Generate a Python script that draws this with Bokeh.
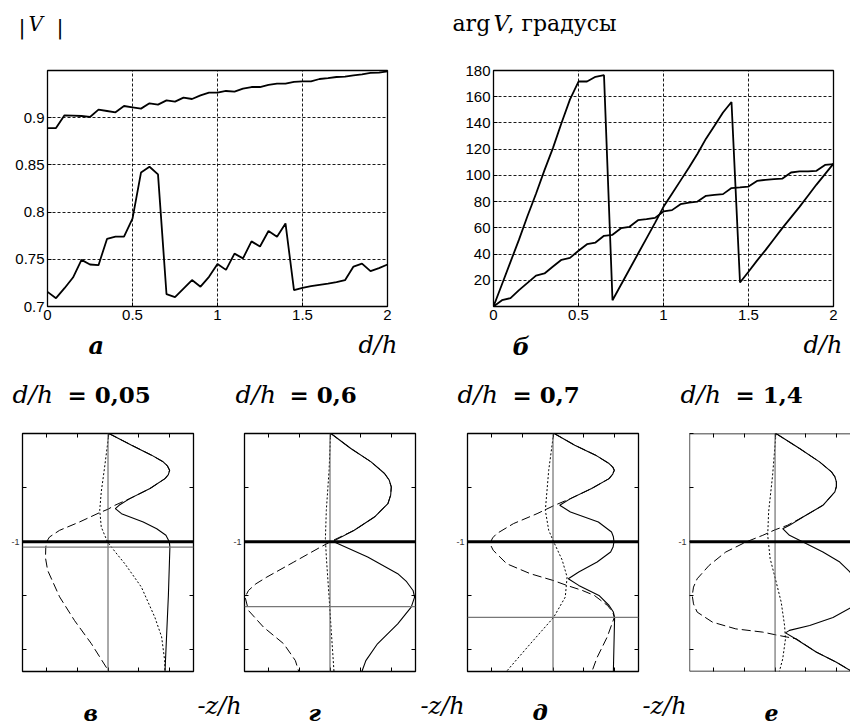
from bokeh.plotting import figure
from bokeh.models import (Range1d, FixedTicker, LinearAxis, Span, Label,
                          PrintfTickFormatter, CustomJSTickFormatter)
from bokeh.layouts import row, column
from bokeh.embed import file_html
from bokeh.resources import INLINE

# ---------------- data: top panels ----------------
d_over_h = [0.00, 0.05, 0.10, 0.15, 0.20, 0.25, 0.30, 0.35, 0.40, 0.45,
            0.50, 0.55, 0.60, 0.65, 0.70, 0.75, 0.80, 0.85, 0.90, 0.95,
            1.00, 1.05, 1.10, 1.15, 1.20, 1.25, 1.30, 1.35, 1.40, 1.45,
            1.50, 1.55, 1.60, 1.65, 1.70, 1.75, 1.80, 1.85, 1.90, 1.95, 2.00]
absV_upper = [0.889, 0.889, 0.9025, 0.9022, 0.9018, 0.9008, 0.9085, 0.9071, 0.9057, 0.9124,
              0.911, 0.9096, 0.9152, 0.9138, 0.9184, 0.917, 0.9212, 0.9198, 0.9237, 0.9265,
              0.9265, 0.9283, 0.9276, 0.9308, 0.9325, 0.9325, 0.9347, 0.936, 0.936, 0.938,
              0.9385, 0.9385, 0.941, 0.942, 0.9431, 0.9435, 0.9449, 0.946, 0.9474, 0.9477, 0.949]
absV_lower = [0.7155, 0.7088, 0.7194, 0.7307, 0.7494, 0.7445, 0.7438, 0.7716, 0.774, 0.774,
              0.793, 0.8419, 0.848, 0.840, 0.713, 0.710, 0.719, 0.728, 0.721, 0.7314,
              0.745, 0.7388, 0.756, 0.751, 0.769, 0.7635, 0.780, 0.774, 0.788, 0.7173,
              0.7198, 0.7215, 0.723, 0.7243, 0.7258, 0.7279, 0.7423, 0.7455, 0.7374, 0.7406, 0.7445]
argV_fast = [0, 17, 34, 51, 69, 86, 104, 121, 140, 158,
             171.6, 171.6, 175.2, 176.4, 4.8, 16.6, 28.4, 40.2, 52, 63.8,
             76, 86, 96, 106, 116.5, 128, 137.8, 148, 156, 18.3,
             26.5, 35, 43, 51.5, 60, 68, 76, 84.5, 93, 101, 109]
argV_slow = [0, 4.8, 6.4, 12.5, 18, 23.6, 25.2, 30.5, 35.6, 37.1,
             42.5, 47.5, 48.8, 53.9, 54.7, 59.7, 60.8, 65.8, 66.6, 67.6,
             72.5, 73.5, 78, 79.3, 80, 84.4, 85.2, 85.7, 90.3, 90.8,
             91.5, 95.8, 96.6, 97.1, 97.6, 102.2, 103, 103, 103.5, 108, 108.6]
dh_ticks = [0, 0.5, 1, 1.5, 2]
abs_ticks = [0.7, 0.75, 0.8, 0.85, 0.9]
arg_ticks = [20, 40, 60, 80, 100, 120, 140, 160, 180]

# ---------------- data: depth profiles ----------------
profile_d = [0.05, 0.6, 0.7, 1.4]
profile_labels = ["0,05", "0,6", "0,7", "1,4"]
panel_letters = ["а", "б", "в", "г", "д", "е"]
z_ticks = [0, -0.5, -1, -1.5, -2]
x_ticks = [-2, -1, 0, 1, 2]

# panel в  (d/h = 0.05)
v_abs_z = [0, -0.108, -0.2, -0.262, -0.30, -0.34, -0.38, -0.417, -0.509, -0.602, -0.664, -0.694,
           -0.741, -0.818, -0.88, -0.941, -1.0, -1.05, -1.5, -2.2]
v_abs_x = [0.03, 0.77, 1.42, 1.80, 1.94, 2.01, 1.97, 1.86, 1.37, 0.71, 0.36, 0.24,
           0.44, 1.15, 1.59, 1.89, 2.0, 2.02, 1.97, 1.86]
v_re_z = [0, -0.108, -0.2, -0.262, -0.30, -0.34, -0.38, -0.417, -0.509, -0.602, -0.664, -0.70,
          -0.731, -0.818, -0.895, -0.957, -1.0, -1.05, -1.15, -1.265, -1.51, -1.73, -1.94, -2.2]
v_re_x = [0.03, 0.77, 1.42, 1.80, 1.94, 2.01, 1.97, 1.86, 1.37, 0.71, 0.22, 0.0,
          -0.27, -0.93, -1.58, -1.91, -2.0, -2.03, -2.04, -1.97, -1.58, -1.09, -0.55, 0.03]
v_im_z = [0, -0.31, -0.54, -0.71, -0.864, -1.0, -1.1, -1.204, -1.42, -1.70, -1.88, -2.10, -2.2]
v_im_x = [0.03, -0.11, -0.22, -0.27, -0.22, -0.02, 0.25, 0.55, 1.09, 1.53, 1.75, 1.85, 1.86]

# panel г  (d/h = 0.6)
g_abs_z = [0, -0.139, -0.262, -0.370, -0.43, -0.494, -0.57, -0.648, -0.772, -0.895, -0.988, -1.0,
           -1.142, -1.296, -1.37, -1.451, -1.512, -1.605, -1.759, -1.944, -2.099, -2.2]
g_abs_x = [0.03, 0.68, 1.34, 1.78, 1.93, 2.0, 1.98, 1.89, 1.45, 0.79, 0.16, 0.12,
           1.23, 2.21, 2.50, 2.71, 2.76, 2.65, 2.21, 1.55, 1.17, 1.04]
g_re_z = [0, -0.139, -0.262, -0.370, -0.43, -0.494, -0.57, -0.648, -0.772, -0.895, -0.988, -1.05,
          -1.188, -1.327, -1.39, -1.451, -1.512, -1.636, -1.79, -1.944, -2.099, -2.2]
g_re_x = [0.03, 0.68, 1.34, 1.78, 1.93, 2.0, 1.98, 1.89, 1.45, 0.79, 0.1, -0.31,
          -1.18, -2.06, -2.42, -2.66, -2.77, -2.66, -2.17, -1.51, -1.13, -1.02]
g_im_z = [0, -0.34, -0.71, -0.97, -1.142, -1.512, -1.82, -2.2]
g_im_x = [0.02, -0.03, -0.12, -0.15, -0.12, -0.03, 0.04, 0.13]

# panel д  (d/h = 0.7)
d_abs_z = [0, -0.108, -0.2, -0.278, -0.31, -0.34, -0.375, -0.417, -0.509, -0.602, -0.664, -0.725,
           -0.818, -0.91, -0.955, -1.0, -1.05, -1.096, -1.188, -1.28, -1.343, -1.404, -1.497, -1.59,
           -1.65, -1.70, -2.2]
d_abs_x = [0.04, 0.71, 1.39, 1.83, 1.95, 2.0, 1.95, 1.83, 1.26, 0.57, 0.22, 0.57,
           1.48, 1.91, 1.97, 1.99, 1.96, 1.88, 1.44, 0.84, 0.5, 0.84, 1.5, 1.83,
           1.97, 2.01, 1.97]
d_re_z = [0, -0.108, -0.2, -0.278, -0.31, -0.34, -0.375, -0.417, -0.509, -0.602, -0.664, -0.741,
          -0.833, -0.926, -0.965, -1.0, -1.04, -1.08, -1.204, -1.296, -1.358, -1.404, -1.45, -1.497,
          -1.59, -1.65, -1.70, -1.88, -2.07, -2.2]
d_re_x = [0.04, 0.71, 1.39, 1.83, 1.95, 2.0, 1.95, 1.83, 1.26, 0.57, 0.05, -0.52,
          -1.29, -1.84, -1.97, -2.03, -2.02, -1.95, -1.51, -0.74, 0.0, 0.45, 0.95, 1.35,
          1.78, 1.95, 2.0, 1.77, 1.44, 1.27]
d_im_z = [0, -0.34, -0.71, -0.895, -1.0, -1.17, -1.327, -1.512, -1.70, -1.944, -2.2]
d_im_x = [0.02, -0.14, -0.25, -0.14, 0.02, 0.30, 0.46, 0.40, 0.02, -0.74, -1.52]

# panel е  (d/h = 1.4)
e_abs_z = [0, -0.139, -0.262, -0.355, -0.40, -0.448, -0.49, -0.54, -0.664, -0.772, -0.849, -0.88,
           -0.941, -1.003, -1.096, -1.188, -1.28, -1.4, -1.497, -1.605, -1.70, -1.775,
           -1.82, -1.843, -1.90, -2.02, -2.114, -2.2]
e_abs_x = [0.03, 0.80, 1.45, 1.84, 1.95, 2.0, 2.0, 1.95, 1.56, 0.91, 0.47, 0.25,
           0.47, 0.91, 1.56, 2.11, 2.44, 2.68, 2.72, 2.51, 1.89, 1.13,
           0.47, 0.34, 0.68, 1.34, 2.0, 2.51]
e_re_z = [0, -0.139, -0.262, -0.355, -0.40, -0.448, -0.49, -0.54, -0.664, -0.772, -0.849, -0.89,
          -0.941, -1.003, -1.096, -1.219, -1.343, -1.42, -1.497, -1.575, -1.651, -1.744, -1.806, -1.836,
          -1.86, -1.898, -2.02, -2.114, -2.2]
e_re_x = [0.03, 0.80, 1.45, 1.84, 1.95, 2.0, 2.0, 1.95, 1.56, 0.91, 0.40, 0.0,
          -0.40, -0.95, -1.61, -2.15, -2.54, -2.66, -2.70, -2.66, -2.54, -2.04, -1.28, -0.40,
          0.0, 0.69, 1.34, 2.0, 2.51]
e_im_z = [0, -0.386, -0.725, -0.941, -1.157, -1.343, -1.559, -1.775, -1.898, -2.083, -2.2]
e_im_x = [0.03, -0.08, -0.21, -0.24, -0.16, 0.01, 0.20, 0.31, 0.34, 0.25, 0.14]

SERIF = "DejaVu Serif"
SANS = "Liberation Sans"
W = 850
BASELINE_OFFSET = 7   # labels render this many px below their nominal anchor


def strip(h):
    s = figure(width=W, height=h, x_range=Range1d(0, W), y_range=Range1d(h, 0),
               x_axis_location=None, y_axis_location=None, title=None,
               output_backend="svg", toolbar_location=None, min_border=0)
    s.outline_line_color = None
    s.grid.visible = False
    s.background_fill_color = "white"
    s.border_fill_color = "white"
    return s


def txt(s, x, y, text, size, style="normal"):
    """x, y: wanted left edge and baseline, in the strip's own pixels."""
    s.add_layout(Label(x=x, y=y - BASELINE_OFFSET, text=text, text_font=SERIF,
                       text_font_size=f"{size}px", text_font_style=style,
                       text_align="left", text_baseline="alphabetic",
                       text_color="black"))


def top_panel(width, bl, br, yr, yticks, series):
    p = figure(width=width, height=283, x_range=Range1d(0, 2), y_range=Range1d(*yr),
               output_backend="svg", toolbar_location=None, title=None,
               min_border_left=bl, min_border_right=br,
               min_border_top=25, min_border_bottom=22)
    p.background_fill_color = "white"
    p.border_fill_color = "white"
    p.outline_line_color = "black"
    p.outline_line_width = 1.3
    p.xaxis.ticker = FixedTicker(ticks=dh_ticks)
    p.yaxis.ticker = FixedTicker(ticks=yticks)
    p.axis.formatter = PrintfTickFormatter(format="%g")
    p.axis.axis_line_color = None
    p.axis.major_tick_in = 4
    p.axis.major_tick_out = 0
    p.axis.minor_tick_in = 0
    p.axis.minor_tick_out = 0
    p.axis.major_tick_line_color = "black"
    p.axis.major_label_text_font = SANS
    p.axis.major_label_text_font_size = "15px"
    p.axis.major_label_text_color = "black"
    p.axis.major_label_standoff = 3
    p.xgrid.ticker = FixedTicker(ticks=dh_ticks)
    p.ygrid.ticker = FixedTicker(ticks=yticks)
    p.grid.grid_line_color = "black"
    p.grid.grid_line_dash = "3 2"
    p.grid.grid_line_width = 0.9
    for ys in series:
        p.line(d_over_h, ys, line_color="black", line_width=1.8)
    return p


def profile_panel(width, bl, br, xr, d, abs_zx, re_zx, im_zx, right_axis=True):
    p = figure(width=width, height=262, x_range=Range1d(*xr), y_range=Range1d(-2.2, 0),
               x_axis_location=None, y_axis_location=None, title=None,
               output_backend="svg", toolbar_location=None,
               min_border_left=bl, min_border_right=br,
               min_border_top=15, min_border_bottom=9)
    p.background_fill_color = "white"
    p.border_fill_color = "white"
    p.grid.visible = False
    p.outline_line_color = "black"
    p.outline_line_width = 1.3
    fmt = CustomJSTickFormatter(code="return tick == -1 ? '-1' : '';")
    blank = CustomJSTickFormatter(code="return '';")
    locs = [("left", z_ticks, fmt), ("above", x_ticks, blank), ("below", x_ticks, blank)]
    if right_axis:
        locs.append(("right", z_ticks, blank))
    for loc, tks, f in locs:
        ax = LinearAxis(ticker=FixedTicker(ticks=tks), formatter=f,
                        major_tick_in=4, major_tick_out=0,
                        minor_tick_in=0, minor_tick_out=0,
                        axis_line_color=None, major_tick_line_color="black",
                        major_label_text_font=SANS,
                        major_label_text_font_size="9px" if f is fmt else "0px",
                        major_label_text_color="#333333",
                        major_label_standoff=3 if f is fmt else 0)
        p.add_layout(ax, loc)
    p.add_layout(Span(location=0, dimension="height", line_color="#555555", line_width=1))
    p.add_layout(Span(location=-1, dimension="width", line_color="black", line_width=3))
    if d < 1.2:
        p.add_layout(Span(location=-1 - d, dimension="width", line_color="#777777", line_width=1.2))
    p.line(abs_zx[1], abs_zx[0], line_color="black", line_width=1.1)
    p.line(re_zx[1], re_zx[0], line_color="black", line_width=1.0, line_dash="9 4")
    p.line(im_zx[1], im_zx[0], line_color="black", line_width=1.0, line_dash="2 2")
    return p


# ---------------- strip with the two upper titles (y 0..45) ----------------
s0 = strip(45)
txt(s0, 18, 33, "|", 21)
txt(s0, 28, 30, "V", 20, "italic")
txt(s0, 56, 33, "|", 21)
txt(s0, 452, 30, "arg", 22)
txt(s0, 493, 30, "V", 22, "italic")
txt(s0, 507, 30, ", градусы", 22)

# ---------------- top row (y 45..328) ----------------
pa = top_panel(430, 47, 43, (0.7, 0.95), abs_ticks, [absV_upper, absV_lower])
pb = top_panel(420, 63, 17, (0, 180), arg_ticks, [argV_fast, argV_slow])

# ---------------- middle strip (y 328..418) ----------------
s1 = strip(90)
txt(s1, 88, 24, panel_letters[0], 24, "bold italic")
txt(s1, 358, 23, "d/h", 24, "italic")
txt(s1, 512, 25, panel_letters[1], 24, "bold italic")
txt(s1, 803, 23, "d/h", 24, "italic")
title_x = [(12, 67), (235, 289), (457, 512), (680, 735)]
for i in range(4):
    txt(s1, title_x[i][0], 73, "d/h", 25, "italic")
    txt(s1, title_x[i][1], 73, "= " + profile_labels[i], 23, "bold")

# ---------------- bottom row (y 418..680) ----------------
XR = (-2.79, 2.79)
XR4 = (-2.79, 2.46)
p1 = profile_panel(218, 22, 25, XR, profile_d[0], (v_abs_z, v_abs_x), (v_re_z, v_re_x), (v_im_z, v_im_x))
p2 = profile_panel(223, 26, 26, XR, profile_d[1], (g_abs_z, g_abs_x), (g_re_z, g_re_x), (g_im_z, g_im_x))
p3 = profile_panel(222, 26, 25, XR, profile_d[2], (d_abs_z, d_abs_x), (d_re_z, d_re_x), (d_im_z, d_im_x))
p4 = profile_panel(187, 26, 0, XR4, profile_d[3], (e_abs_z, e_abs_x), (e_re_z, e_re_x), (e_im_z, e_im_x),
                   right_axis=False)
# panel е is cut by the picture edge: left/top/bottom borders only
p4.outline_line_color = None
p4.add_layout(Span(location=XR4[0], dimension="height", line_color="black", line_width=1.3))
p4.add_layout(Span(location=0, dimension="width", line_color="black", line_width=1.3))
p4.add_layout(Span(location=-2.2, dimension="width", line_color="black", line_width=1.3))

# ---------------- bottom strip (y 680..725) ----------------
s2 = strip(45)
letters = [(83, 39), (308, 39), (532, 38), (764, 39)]
for i in range(4):
    txt(s2, letters[i][0], letters[i][1], panel_letters[i + 2], 22, "bold italic")
for zx in [197, 420, 642]:
    txt(s2, zx, 32, "-z/h", 24, "italic")

layout = column(s0, row(pa, pb), s1, row(p1, p2, p3, p4), s2)
open("out.html", "w").write(file_html(layout, INLINE))
